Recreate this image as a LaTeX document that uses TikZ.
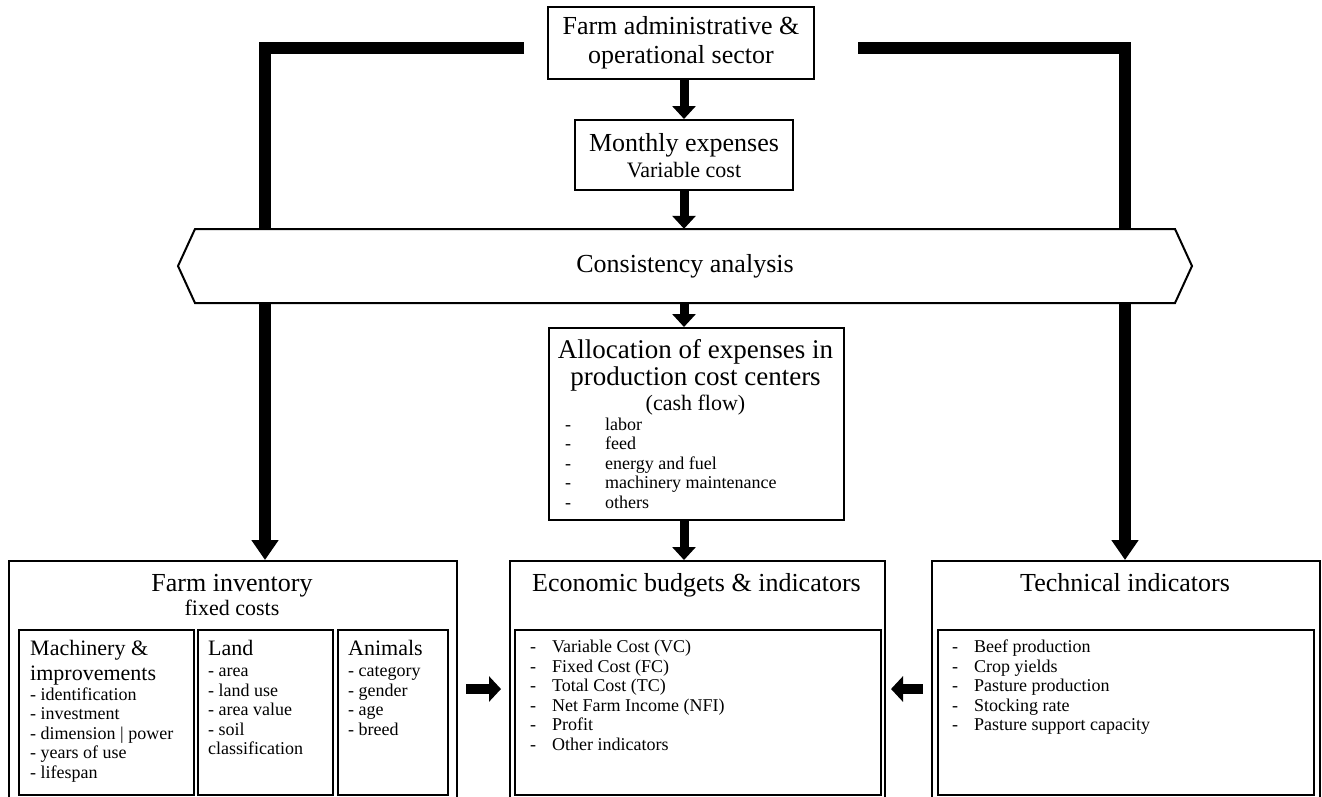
\documentclass[tikz,border=0pt]{standalone}
\usepackage{fontspec}
\setmainfont{Liberation Serif}
\usetikzlibrary{arrows.meta}
\tikzset{
  box/.style={draw, line width=2pt, inner sep=0pt, fill=white},
  inbox/.style={draw, line width=1.6pt, inner sep=0pt},
  T/.style={font=\fontsize{26}{29}\selectfont, inner sep=0pt},
  S/.style={font=\fontsize{22}{25}\selectfont, inner sep=0pt},
  L/.style={font=\fontsize{18}{19.5}\selectfont, inner sep=0pt},
  bigconn/.style={line width=12pt, line join=miter, -{Triangle[width=26pt,length=20pt]}},
  varrow/.style={line width=9pt, -{Triangle[width=23pt,length=13pt]}},
  harrow/.style={line width=10pt, -{Triangle[width=25pt,length=12pt]}},
}
\begin{document}
\begin{tikzpicture}[x=1pt,y=-1pt]
\useasboundingbox (0,0) rectangle (1322,796);
\clip (0,0) rectangle (1322,796);
\fill[white] (0,0) rectangle (1322,796);

% axis for central arrows
\coordinate (axis) at (684,0);

% top box
\node[box, T, align=center, minimum width=266pt, minimum height=72pt] (admin) at (681,43)
  {Farm administrative \&\\operational sector};

% monthly expenses
\node[box, minimum width=218pt, minimum height=70pt] (monthly) at (684,155) {};
\node[T, anchor=base] (monthlyA) at (684,151) {Monthly expenses};
\node[S, anchor=base] (monthlyB) at (684,177) {Variable cost};

% bottom outer boxes
\node[box, anchor=north west, minimum width=448pt, minimum height=256pt] (inv) at (8,560) {};
\node[box, anchor=north west, minimum width=375pt, minimum height=256pt] (econ) at (509,560) {};
\node[box, anchor=north west, minimum width=388pt, minimum height=256pt] (tech) at (931,560) {};

% long connectors
\coordinate (lstart) at (524,48);
\coordinate (lcorner) at (265,48);
\coordinate (rstart) at (858,48);
\coordinate (rcorner) at (1125,48);
\draw[bigconn] (lstart) -- (lcorner) -- (lcorner |- inv.north);
\draw[bigconn] (rstart) -- (rcorner) -- (rcorner |- tech.north);

% consistency analysis
\draw[line width=2pt, fill=white, line join=miter] (195,229) -- (1175,229) -- (1192,266) -- (1175,303)
  -- (195,303) -- (178,266) -- cycle;
\node[T, minimum width=980pt, minimum height=74pt] (consist) at (685,266) {Consistency analysis};

% allocation box
\node[box, anchor=north west, minimum width=295pt, minimum height=192pt] (alloc) at (548,327) {};
\node[T, font=\fontsize{27}{29}\selectfont, anchor=base] (allocA) at (695.5,358) {Allocation of expenses in};
\node[T, font=\fontsize{27}{29}\selectfont, anchor=base] (allocB) at (695.5,385) {production cost centers};
\node[S, anchor=base] (allocC) at (695.5,410) {(cash flow)};
\foreach \t [count=\i] in {labor, feed, energy and fuel, machinery maintenance, others}{
  \node[L, anchor=base west] (alD\i) at (565,{430+19.5*(\i-1)}) {-};
  \node[L, anchor=base west] (alT\i) at (605,{430+19.5*(\i-1)}) {\t};
}

% central arrows
\draw[varrow] (axis |- admin.south) -- (axis |- monthly.north);
\draw[varrow] (axis |- monthly.south) -- (axis |- consist.north);
\draw[varrow] (axis |- consist.south) -- (axis |- alloc.north);
\draw[varrow] (axis |- alloc.south) -- (axis |- econ.north);

% farm inventory
\node[T, anchor=base] (invA) at (232,591) {Farm inventory};
\node[S, anchor=base] (invB) at (232,615) {fixed costs};
\node[inbox, anchor=north west, minimum width=175pt, minimum height=165pt] (mach) at (18,629) {};
\node[inbox, anchor=north west, minimum width=135pt, minimum height=165pt] (land) at (197,629) {};
\node[inbox, anchor=north west, minimum width=110pt, minimum height=165pt] (anim) at (337,629) {};

\node[S, anchor=base west] (machA) at (30,655) {Machinery \&};
\node[S, anchor=base west] (machB) at (30,680) {improvements};
\foreach \t [count=\i] in {- identification, - investment, - dimension | power, - years of use, - lifespan}{
  \node[L, anchor=base west] (machL\i) at (30,{700+19.5*(\i-1)}) {\t};
}
\node[S, anchor=base west] (landA) at (208,655) {Land};
\foreach \t [count=\i] in {- area, - land use, - area value, - soil, classification}{
  \node[L, anchor=base west] (landL\i) at (208,{676.5+19.5*(\i-1)}) {\t};
}
\node[S, anchor=base west] (animA) at (348,655) {Animals};
\foreach \t [count=\i] in {- category, - gender, - age, - breed}{
  \node[L, anchor=base west] (animL\i) at (348,{676.5+19.5*(\i-1)}) {\t};
}

% economic
\node[T, anchor=base] (econA) at (696.5,591) {Economic budgets \& indicators};
\node[inbox, anchor=north west, minimum width=366pt, minimum height=165pt] (econin) at (514,629) {};
\foreach \t [count=\i] in {Variable Cost (VC), Fixed Cost (FC), Total Cost (TC), Net Farm Income (NFI), Profit, Other indicators}{
  \node[L, anchor=base west] (ecD\i) at (530,{652.5+19.5*(\i-1)}) {-};
  \node[L, anchor=base west] (ecT\i) at (552,{652.5+19.5*(\i-1)}) {\t};
}

% technical
\node[T, anchor=base] (techA) at (1125,591) {Technical indicators};
\node[inbox, anchor=north west, minimum width=376pt, minimum height=165pt] (techin) at (937,629) {};
\foreach \t [count=\i] in {Beef production, Crop yields, Pasture production, Stocking rate, Pasture support capacity}{
  \node[L, anchor=base west] (teD\i) at (952,{652.5+19.5*(\i-1)}) {-};
  \node[L, anchor=base west] (teT\i) at (974,{652.5+19.5*(\i-1)}) {\t};
}

% horizontal arrows
\draw[harrow] ([xshift=8pt]inv.east) -- ([xshift=-8pt]econ.west);
\draw[harrow] ([xshift=-8pt]tech.west) -- ([xshift=5pt]econ.east);
\end{tikzpicture}
\end{document}
